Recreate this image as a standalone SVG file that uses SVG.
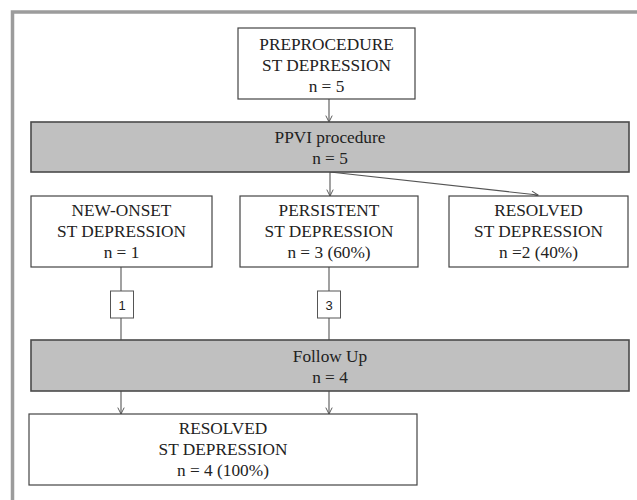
<svg xmlns="http://www.w3.org/2000/svg" width="637" height="500" viewBox="0 0 637 500">
<defs>
<marker id="ah" viewBox="0 0 10 10" refX="9" refY="5" markerWidth="8" markerHeight="8" markerUnits="userSpaceOnUse" orient="auto">
<path d="M1,1 L9,5 L1,9" fill="none" stroke="#555" stroke-width="1.2"/>
</marker>
<style>
.box{fill:#fff;stroke:#444;stroke-width:1.2}
.gray{fill:#c0c0c0;stroke:#4a4a4a;stroke-width:1.6}
.small{fill:#fff;stroke:#555;stroke-width:1}
.t{font-family:"Liberation Serif","Times New Roman",serif;font-size:17.3px;fill:#222;text-anchor:middle}
.n{font-family:"Liberation Sans",Arial,sans-serif;font-size:13px;fill:#222;text-anchor:middle}
.c{fill:none;stroke:#555;stroke-width:1.1}
</style>
</defs>
<rect width="637" height="500" fill="#fff"/>
<path d="M12.5,500 V12 H637" fill="none" stroke="#9c9c9c" stroke-width="3.5"/>

<g id="connectors">
<line class="c" x1="329" y1="99" x2="329" y2="122" marker-end="url(#ah)"/>
<line class="c" x1="330" y1="172" x2="330" y2="196" marker-end="url(#ah)"/>
<line class="c" x1="330" y1="172" x2="538" y2="195" marker-end="url(#ah)"/>
<line class="c" x1="121" y1="267" x2="121" y2="340"/>
<line class="c" x1="329" y1="267" x2="329" y2="340"/>
<line class="c" x1="121" y1="391" x2="121" y2="414" marker-end="url(#ah)"/>
<line class="c" x1="329" y1="391" x2="329" y2="414" marker-end="url(#ah)"/>
</g>

<g id="preprocedure">
<rect class="box" x="238" y="28" width="177" height="71"/>
<text class="t" x="326.5" y="50">PREPROCEDURE</text>
<text class="t" x="326.5" y="71">ST DEPRESSION</text>
<text class="t" x="326.5" y="92">n = 5</text>
</g>

<g id="ppvi">
<rect class="gray" x="31" y="122" width="598" height="50"/>
<text class="t" x="330" y="143">PPVI procedure</text>
<text class="t" x="330" y="164">n = 5</text>
</g>

<g id="new-onset">
<rect class="box" x="31" y="196" width="181" height="71"/>
<text class="t" x="121.5" y="216">NEW-ONSET</text>
<text class="t" x="121.5" y="237">ST DEPRESSION</text>
<text class="t" x="121.5" y="258">n = 1</text>
</g>

<g id="persistent">
<rect class="box" x="240" y="196" width="178" height="71"/>
<text class="t" x="329" y="216">PERSISTENT</text>
<text class="t" x="329" y="237">ST DEPRESSION</text>
<text class="t" x="329" y="258">n = 3 (60%)</text>
</g>

<g id="resolved-1">
<rect class="box" x="449" y="196" width="179" height="71"/>
<text class="t" x="538.5" y="216">RESOLVED</text>
<text class="t" x="538.5" y="237">ST DEPRESSION</text>
<text class="t" x="538.5" y="258">n =2 (40%)</text>
</g>

<g id="count-1">
<rect class="small" x="110.5" y="291" width="23" height="27"/>
<text class="n" x="122" y="309.5">1</text>
</g>

<g id="count-3">
<rect class="small" x="317.5" y="291" width="23" height="27"/>
<text class="n" x="329" y="309.5">3</text>
</g>

<g id="follow-up">
<rect class="gray" x="31" y="340" width="598" height="51"/>
<text class="t" x="330" y="362">Follow Up</text>
<text class="t" x="330" y="383">n = 4</text>
</g>

<g id="resolved-2">
<rect class="box" x="29" y="414" width="388" height="71"/>
<text class="t" x="223" y="434">RESOLVED</text>
<text class="t" x="223" y="455">ST DEPRESSION</text>
<text class="t" x="223" y="476">n = 4 (100%)</text>
</g>
</svg>
